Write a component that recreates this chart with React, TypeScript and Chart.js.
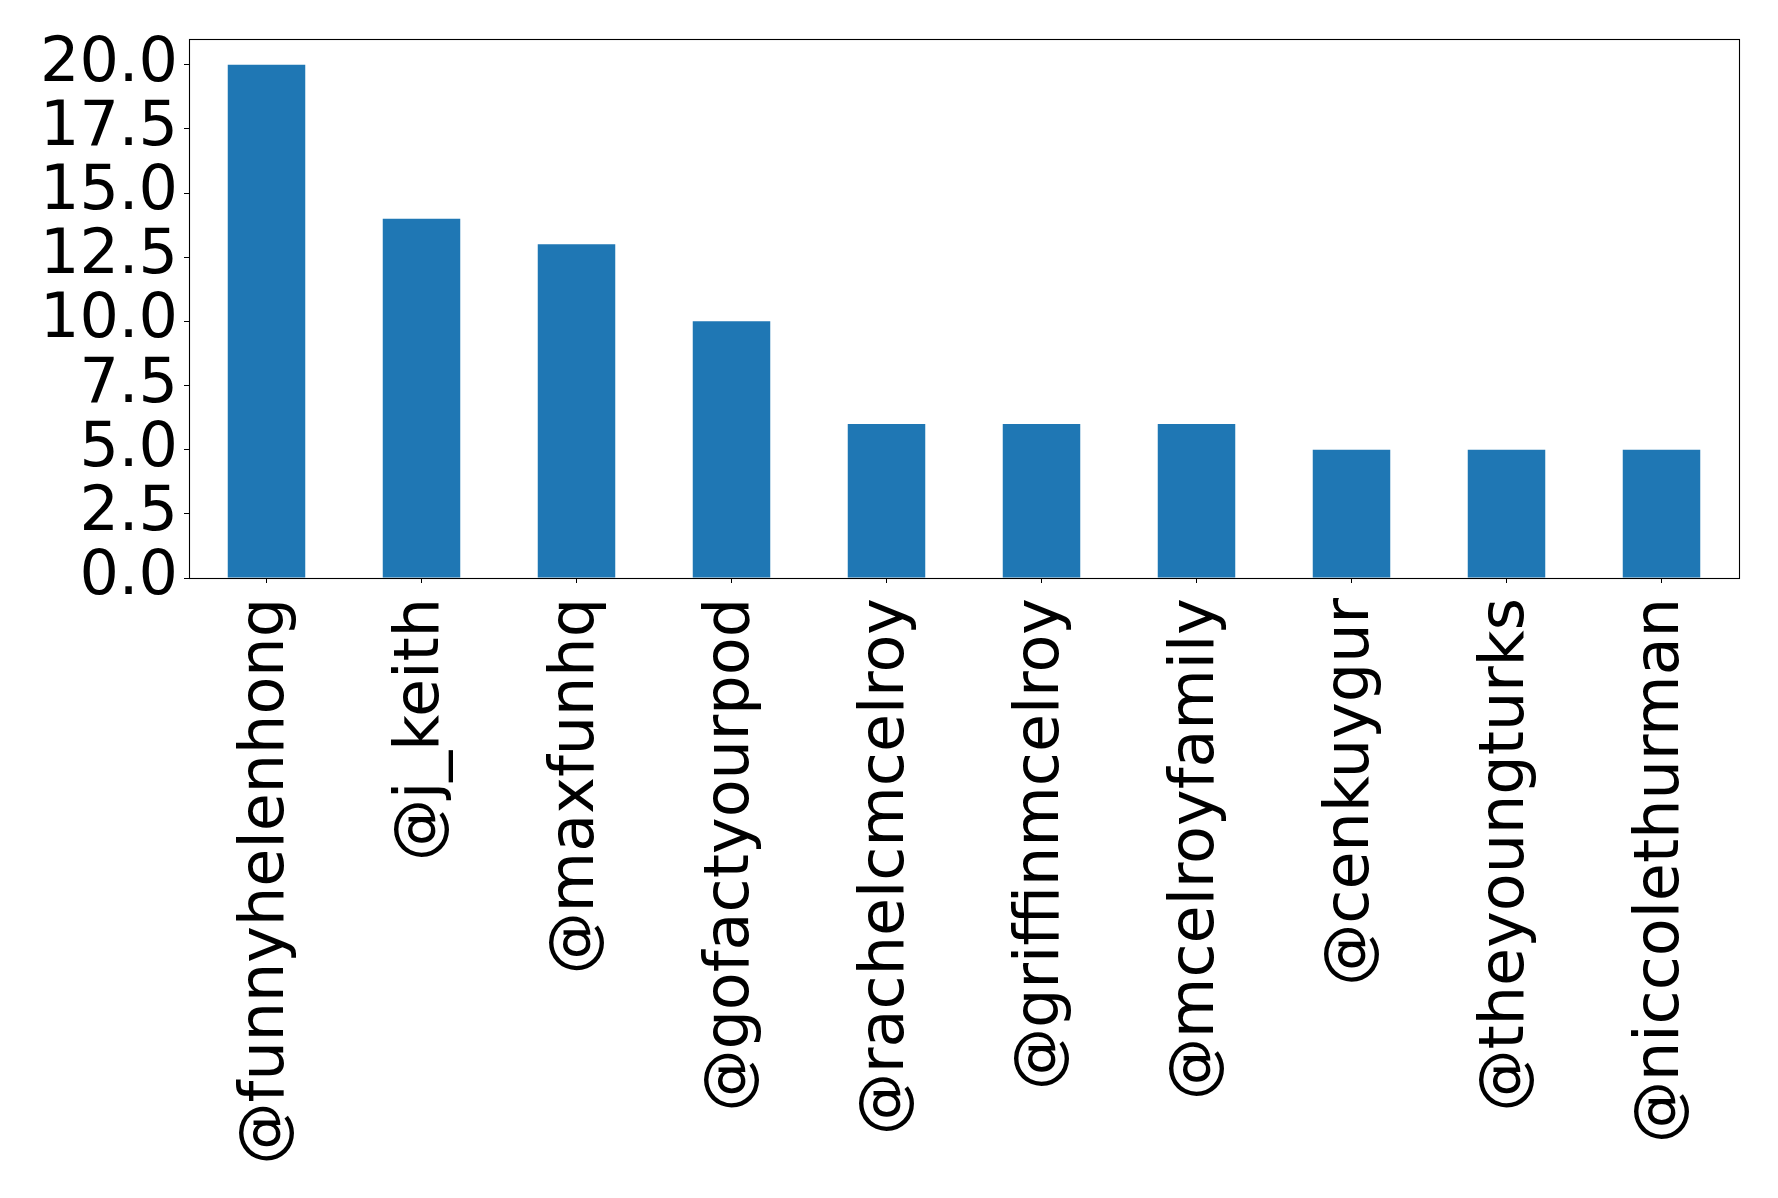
import React, { useEffect, useRef } from "react";
import { Chart, registerables } from "chart.js";

Chart.register(...registerables);

const CATEGORIES: string[] = [
  "@funnyhelenhong",
  "@j_keith",
  "@maxfunhq",
  "@gofactyourpod",
  "@rachelcmcelroy",
  "@griffinmcelroy",
  "@mcelroyfamily",
  "@cenkuygur",
  "@theyoungturks",
  "@niccolethurman",
];
const COUNTS: number[] = [20, 14, 13, 10, 6, 6, 6, 5, 5, 5];
const Y_TICKS: number[] = [0, 2.5, 5, 7.5, 10, 12.5, 15, 17.5, 20];
const Y_MAX = 21;

const W = 1778;
const H = 1198;
const PLOT_LEFT = 189;
const PLOT_TOP = 39;
const PLOT_RIGHT = 1739;
const PLOT_BOTTOM = 578;
const FONT = "'DejaVu Sans', sans-serif";

const framePlugin = {
  id: "frame",
  afterDatasetsDraw(chart: any) {
    const { ctx, chartArea } = chart;
    ctx.save();
    ctx.strokeStyle = "#000";
    ctx.lineWidth = 1.1;
    ctx.strokeRect(
      Math.round(chartArea.left) + 0.5,
      Math.round(chartArea.top) + 0.5,
      Math.round(chartArea.right - chartArea.left),
      Math.round(chartArea.bottom - chartArea.top)
    );
    ctx.restore();
  },
};

export default function App() {
  const ref = useRef<HTMLCanvasElement | null>(null);

  useEffect(() => {
    if (!ref.current) return;
    const chart = new Chart(ref.current, {
      type: "bar",
      data: {
        labels: CATEGORIES,
        datasets: [
          {
            data: COUNTS,
            backgroundColor: "#1f77b4",
            borderWidth: 0,
            barPercentage: 0.5,
            categoryPercentage: 1,
          },
        ],
      },
      options: {
        responsive: false,
        animation: false,
        devicePixelRatio: 1,
        layout: {
          padding: { top: PLOT_TOP, right: W - PLOT_RIGHT, left: 0, bottom: 0 },
        },
        plugins: {
          legend: { display: false },
          tooltip: { enabled: false },
          title: { display: false },
        },
        scales: {
          x: {
            type: "category",
            offset: true,
            border: { display: false },
            grid: {
              offset: false,
              drawOnChartArea: false,
              drawTicks: true,
              tickLength: 5,
              color: "#000",
              lineWidth: 1,
            },
            ticks: {
              autoSkip: false,
              maxRotation: 90,
              minRotation: 90,
              padding: 15,
              color: "#000",
              font: { family: FONT, size: 62 },
            },
            afterFit(scale: any) {
              scale.height = H - PLOT_BOTTOM;
              scale.paddingLeft = 0;
              scale.paddingRight = 0;
            },
          },
          y: {
            type: "linear",
            min: 0,
            max: Y_MAX,
            border: { display: false },
            grid: {
              drawOnChartArea: false,
              drawTicks: true,
              tickLength: 5,
              color: "#000",
              lineWidth: 1,
            },
            ticks: {
              autoSkip: false,
              padding: 6,
              color: "#000",
              font: { family: FONT, size: 62 },
              callback: (v: any) => Number(v).toFixed(1),
            },
            afterBuildTicks(scale: any) {
              scale.ticks = Y_TICKS.map((v) => ({ value: v }));
            },
            afterFit(scale: any) {
              scale.width = PLOT_LEFT;
              scale.paddingTop = 0;
              scale.paddingBottom = 0;
            },
          },
        },
      },
      plugins: [framePlugin],
    });
    return () => chart.destroy();
  }, []);

  return (
    <div style={{ position: "absolute", left: 0, top: 0, width: W, height: H, background: "#fff" }}>
      <canvas ref={ref} width={W} height={H} style={{ display: "block", width: W, height: H }} />
    </div>
  );
}
